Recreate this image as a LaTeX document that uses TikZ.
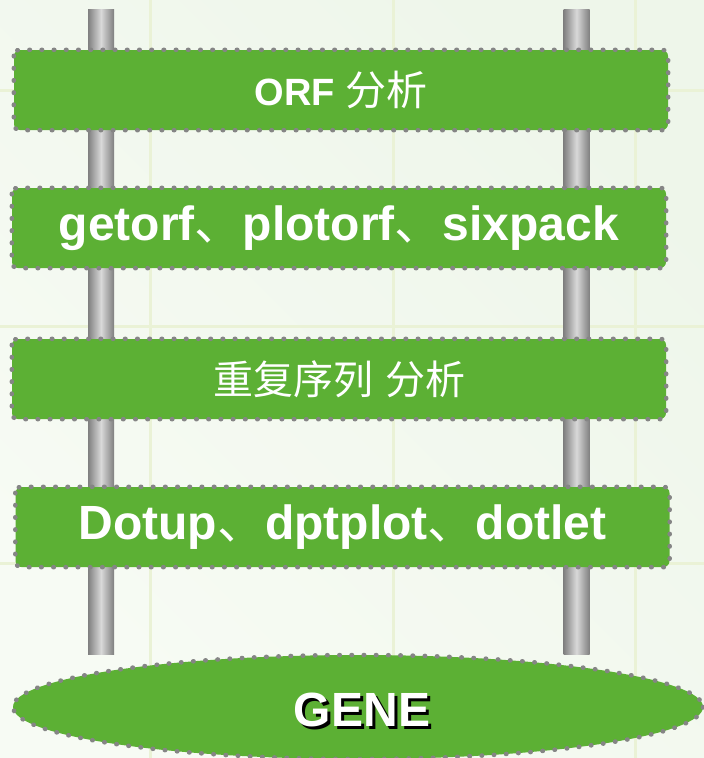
\documentclass[tikz,border=0pt]{standalone}
\usepackage{fontspec}
\setmainfont{Liberation Sans}
\newfontfamily\cjk{Noto Sans CJK SC}
\usetikzlibrary{shapes.geometric}
\definecolor{boxgreen}{HTML}{5CB034}
\definecolor{dotgray}{HTML}{858585}
\definecolor{bgA}{HTML}{F7FBF4}
\definecolor{bgB}{HTML}{EEF6EA}
\definecolor{gridc}{HTML}{EAF2D6}
\tikzset{
  stepbox/.style={rectangle, rounded corners=6pt, fill=boxgreen,
    minimum width=654pt, minimum height=80pt, inner sep=0pt, text=white},
  dotline/.style={draw=dotgray, line width=4.5pt, dash pattern=on 0.5pt off 11.7pt, line cap=round},
  pole/.style={rectangle, inner sep=0pt, minimum width=26pt, minimum height=645pt,
    left color=black!50, right color=black!50, middle color=black!15},
  gridline/.style={draw=gridc, line width=3pt},
}
\newcommand{\shadowtext}[1]{\rlap{\hspace{3pt}\raisebox{-3pt}[0pt][0pt]{\color{black}#1}}#1}
\begin{document}
\begin{tikzpicture}[x=1pt,y=-1pt]
\useasboundingbox (0,0) rectangle (704,758);
\fill[left color=bgA, right color=bgB, shading angle=135] (0,0) rectangle (704,758);
\foreach \gx in {150,393,635} \draw[gridline] (\gx,0) -- (\gx,758);
\foreach \gy in {90,326,563} \draw[gridline] (0,\gy) -- (704,\gy);
\node[pole, anchor=north] (pl) at (101,9) {};
\node[pole, anchor=north] (pr) at (576.5,9) {};
\node[stepbox] (b1) at (341,90) {\fontsize{38}{44}\selectfont\bfseries ORF {\mdseries\cjk\fontsize{41}{44}\selectfont 分析}};
\node[stepbox] (b2) at (339,228) {\fontsize{48}{52}\selectfont\bfseries getorf{\mdseries\cjk 、}plotorf{\mdseries\cjk 、}sixpack};
\node[stepbox] (b3) at (339,379) {\fontsize{40}{44}\selectfont\cjk 重复序列\hspace{0.3em}分析};
\node[stepbox] (b4) at (342.5,527) {\fontsize{48}{52}\selectfont\bfseries Dotup{\mdseries\cjk 、}dptplot{\mdseries\cjk 、}dotlet};
\foreach \b in {b1,b2,b3,b4}
  \draw[dotline, rounded corners=6pt] (\b.north west) rectangle (\b.south east);
\node[ellipse, fill=boxgreen, minimum width=690pt, minimum height=104pt, inner sep=0pt] (gene) at (358,707) {};
\draw[dotline] (gene.center) ellipse [x radius=345, y radius=52];
\node[text=white, font=\fontsize{48}{52}\selectfont\bfseries] (genetext) at (362,710) {\shadowtext{GENE}};
\end{tikzpicture}
\end{document}
